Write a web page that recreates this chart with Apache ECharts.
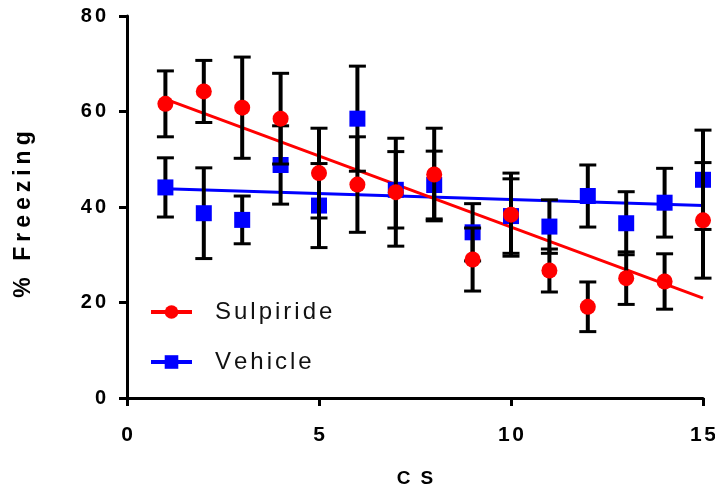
<!DOCTYPE html>
<html>
<head>
<meta charset="utf-8">
<script src="https://cdn.jsdelivr.net/npm/echarts@6/dist/echarts.min.js"></script>
<style>
  html, body { margin: 0; padding: 0; background: #fff; }
  #chart { width: 715px; height: 491px; }
</style>
</head>
<body>
<div id="chart"></div>
<script>
// ---- data ----
const cs = [1, 2, 3, 4, 5, 6, 7, 8, 9, 10, 11, 12, 13, 14, 15];
const sulpMean = [61.6, 64.2, 60.8, 58.5, 47.1, 44.7, 43.1, 46.8, 29.0, 38.4, 26.7, 19.1, 25.1, 24.4, 37.2];
const sulpErr  = [6.9, 6.5, 10.6, 9.5, 9.4, 10.0, 11.3, 9.7, 6.6, 8.7, 4.5, 5.2, 5.5, 5.8, 12.1];
const vehMean  = [44.1, 38.7, 37.3, 48.8, 40.3, 58.5, 43.6, 44.6, 34.7, 38.1, 35.9, 42.3, 36.6, 40.9, 45.7];
const vehErr   = [6.2, 9.5, 5.0, 8.2, 8.8, 11.0, 8.0, 7.1, 6.0, 7.8, 5.6, 6.5, 6.6, 7.2, 10.4];
const fitX     = [1, 15];
const sulpFit  = [62.6, 20.9];
const vehFit   = [43.8, 40.3];

const FONT = '"Liberation Sans", Arial, Helvetica, sans-serif';

// letter-spaced text via rich tokens: each character is a {t|..} token,
// separated by n small {g| } spacer tokens
function spaced(s, n, lead, trail) {
  const gap = '{g| }'.repeat(n || 1);
  return '{g| }'.repeat(lead || 0) +
    s.split('').map(c => c === ' ' ? '{w| }' : '{t|' + c + '}').join(gap) +
    '{g| }'.repeat(trail || 0);
}
function richSet(size, weight, gapPx, color, lh) {
  return {
    t: { fontFamily: FONT, fontSize: size, fontWeight: weight, color: color, lineHeight: lh || size * 1.2 },
    w: { fontFamily: FONT, fontSize: size, fontWeight: weight, color: color, lineHeight: lh || size * 1.2 },
    g: { fontFamily: FONT, fontSize: gapPx / 0.278, fontWeight: 'normal', lineHeight: 4 }
  };
}

const pts = (xs, ys) => xs.map((x, i) => [x, ys[i]]);
const errData = (m, e) => cs.map((x, i) => [x, m[i] - e[i], m[i] + e[i]]);

function renderErr(params, api) {
  const x = api.value(0), lo = api.value(1), hi = api.value(2);
  const pHi = api.coord([x, hi]);
  const pLo = api.coord([x, lo]);
  const w = 8.5;
  const st = { stroke: '#000', lineWidth: 3 };
  return {
    type: 'group',
    children: [
      { type: 'line', shape: { x1: pHi[0], y1: pHi[1], x2: pLo[0], y2: pLo[1] }, style: { stroke: '#000', lineWidth: 4 } },
      { type: 'line', shape: { x1: pHi[0] - w, y1: pHi[1], x2: pHi[0] + w, y2: pHi[1] }, style: st },
      { type: 'line', shape: { x1: pLo[0] - w, y1: pLo[1], x2: pLo[0] + w, y2: pLo[1] }, style: st }
    ]
  };
}

const chart = echarts.init(document.getElementById('chart'), null, { renderer: 'canvas' });

const option = {
  backgroundColor: '#fff',
  animation: false,
  grid: { left: 127, right: 12, top: 16, bottom: 93, outerBoundsMode: 'none', containLabel: false },
  legend: {
    orient: 'vertical',
    left: 149,
    top: 300,
    padding: 0,
    itemWidth: 41,
    itemHeight: 17,
    itemGap: 26,
    data: ['Sulpiride', 'Vehicle'],
    lineStyle: { width: 4 },
    formatter: (name) => spaced(name, 1, 6, 0),
    textStyle: {
      fontFamily: FONT, fontSize: 24, color: '#111', lineHeight: 24,
      rich: richSet(24, 'normal', 3, '#111', 24)
    }
  },
  xAxis: {
    type: 'value',
    min: 0, max: 15, interval: 5,
    name: spaced('CS', 3),
    nameLocation: 'middle',
    nameGap: 69,
    nameTextStyle: {
      fontFamily: FONT, fontSize: 19, fontWeight: 'bold', color: '#000',
      rich: richSet(19, 'bold', 3.4, '#000')
    },
    splitLine: { show: false },
    axisLine: { show: true, onZero: false, lineStyle: { color: '#000', width: 3 } },
    axisTick: { show: true, length: 8, lineStyle: { color: '#000', width: 3 } },
    axisLabel: {
      margin: 25,
      fontFamily: FONT, fontSize: 21, fontWeight: 'bold', color: '#000',
      formatter: (v) => spaced(String(v), 1),
      rich: richSet(21, 'bold', 2.5, '#000')
    }
  },
  yAxis: {
    type: 'value',
    min: 0, max: 80, interval: 20,
    name: spaced('% Freezing', 1, 0, 3),
    nameLocation: 'middle',
    nameGap: 90,
    nameTextStyle: {
      fontFamily: FONT, fontSize: 23, fontWeight: 'bold', color: '#000',
      rich: richSet(23, 'bold', 5, '#000')
    },
    splitLine: { show: false },
    axisLine: { show: true, onZero: false, lineStyle: { color: '#000', width: 3 } },
    axisTick: { show: true, length: 8, lineStyle: { color: '#000', width: 3 } },
    axisLabel: {
      margin: 21,
      fontFamily: FONT, fontSize: 20, fontWeight: 'bold', color: '#000',
      formatter: (v) => spaced(String(v), 1),
      rich: richSet(20, 'bold', 3, '#000')
    }
  },
  series: [
    {
      name: 'Vehicle', type: 'line', data: pts(fitX, vehFit),
      symbol: 'rect', showSymbol: false, symbolSize: 16,
      lineStyle: { color: '#0000ff', width: 3 }, itemStyle: { color: '#0000ff' },
      z: 2, silent: true
    },
    {
      name: 'Sulpiride', type: 'line', data: pts(fitX, sulpFit),
      symbol: 'circle', showSymbol: false, symbolSize: 16,
      lineStyle: { color: '#ff0000', width: 3 }, itemStyle: { color: '#ff0000' },
      z: 2, silent: true
    },
    {
      name: 'Vehicle SEM', type: 'custom', renderItem: renderErr,
      data: errData(vehMean, vehErr), encode: { x: 0, y: [1, 2] }, z: 3, silent: true
    },
    {
      name: 'Vehicle points', type: 'scatter', data: pts(cs, vehMean),
      symbol: 'rect', symbolSize: 16, itemStyle: { color: '#0000ff', opacity: 1 }, z: 4, silent: true
    },
    {
      name: 'Sulpiride SEM', type: 'custom', renderItem: renderErr,
      data: errData(sulpMean, sulpErr), encode: { x: 0, y: [1, 2] }, z: 5, silent: true
    },
    {
      name: 'Sulpiride points', type: 'scatter', data: pts(cs, sulpMean),
      symbol: 'circle', symbolSize: 16, itemStyle: { color: '#ff0000', opacity: 1 }, z: 6, silent: true
    }
  ]
};

chart.setOption(option);
</script>
</body>
</html>
